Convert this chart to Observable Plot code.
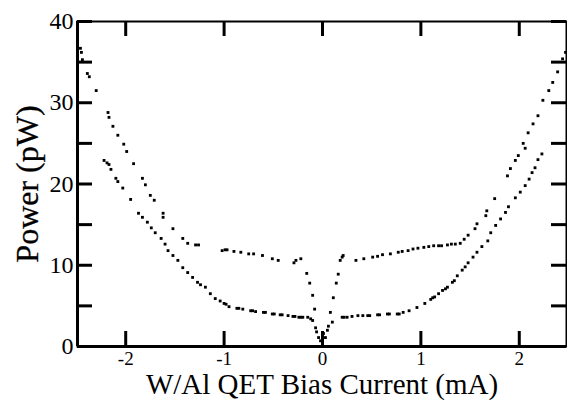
<!DOCTYPE html>
<html>
<head>
<meta charset="utf-8">
<script src="https://cdn.jsdelivr.net/npm/d3@7"></script>
<script src="https://cdn.jsdelivr.net/npm/@observablehq/plot@0.6"></script>
<style>
  html, body { margin: 0; padding: 0; background: #fff; }
  #chart svg { display: block; }
</style>
</head>
<body>
<div id="chart"></div>
<script>
// Upper branch (left), bias current in mA and power in pW
const upperLeftX = [-2.46,-2.45,-2.44,-2.39,-2.37,-2.30,-2.18,-2.17,-2.13,-2.08,-2.02,-1.99,-1.92,-1.83,-1.80,-1.75,-1.71,-1.62,-1.62,-1.52,-1.42,-1.37,-1.29,-1.26,-1.02,-0.99,-0.97,-0.90,-0.83,-0.75,-0.70,-0.61,-0.51,-0.45,-0.29,-0.27,-0.22,-0.16,-0.13,-0.10,-0.08];
const upperLeftY = [36.7,36.2,35.3,33.6,33.2,31.5,28.8,28.2,27.1,26.0,24.9,24.0,22.5,20.7,19.9,18.6,18.0,16.4,15.9,14.5,13.3,12.7,12.5,12.5,11.8,11.9,11.9,11.7,11.6,11.4,11.4,11.2,10.8,10.6,10.3,10.6,10.8,9.0,7.8,6.3,4.6];
// Lower branch (left)
const lowerLeftX = [-2.22,-2.19,-2.17,-2.15,-2.10,-2.08,-2.03,-1.95,-1.87,-1.83,-1.78,-1.74,-1.70,-1.64,-1.60,-1.57,-1.52,-1.47,-1.42,-1.37,-1.32,-1.27,-1.24,-1.19,-1.14,-1.09,-1.04,-1.00,-0.98,-0.95,-0.87,-0.85,-0.81,-0.73,-0.71,-0.68,-0.60,-0.58,-0.51,-0.49,-0.43,-0.41,-0.35,-0.30,-0.28,-0.24,-0.22,-0.20,-0.15,-0.12];
const lowerLeftY = [22.9,22.6,22.4,21.8,20.7,20.3,19.5,18.1,16.4,15.9,15.3,14.6,14.0,13.3,12.6,11.8,11.2,10.6,9.7,9.1,8.5,7.9,7.6,7.3,6.5,5.9,5.6,5.3,5.2,4.9,4.7,4.7,4.6,4.4,4.4,4.3,4.2,4.2,4.0,4.0,3.9,3.9,3.8,3.7,3.7,3.6,3.6,3.6,3.6,3.4];
// Transition dip near zero bias
const dipX = [-0.10,-0.07,-0.06,-0.04,-0.02,0.00,0.01,0.03,0.05,0.06,0.08,0.10,0.11,0.14,0.16];
const dipY = [3.2,2.3,1.8,1.1,0.7,0.4,1.6,1.1,2.0,2.5,4.2,3.0,6.0,7.8,8.9];
// Upper branch (right)
const upperRightX = [0.18,0.20,0.21,0.34,0.42,0.51,0.56,0.61,0.69,0.77,0.81,0.87,0.92,0.97,1.03,1.08,1.13,1.18,1.21,1.27,1.31,1.35,1.40,1.44,1.48,1.55,1.57,1.66,1.67,1.75,1.88,1.91,1.96,1.99,2.04,2.06,2.09,2.14,2.19,2.24,2.30,2.34,2.39,2.44,2.47];
const upperRightY = [10.6,11.0,11.2,10.6,10.8,11.0,11.1,11.3,11.4,11.6,11.7,11.8,12.0,12.1,12.2,12.3,12.4,12.4,12.4,12.5,12.6,12.6,12.7,13.2,13.7,14.5,15.1,16.1,16.7,18.2,21.0,21.9,22.9,23.5,25.0,24.4,26.3,27.4,28.4,30.3,31.5,32.5,33.8,35.4,36.2];
// Lower branch (right)
const lowerRightX = [0.20,0.22,0.25,0.30,0.36,0.41,0.46,0.48,0.56,0.58,0.66,0.68,0.76,0.78,0.82,0.88,0.96,1.04,1.10,1.12,1.14,1.18,1.22,1.25,1.27,1.32,1.34,1.37,1.42,1.45,1.48,1.53,1.57,1.62,1.68,1.71,1.76,1.81,1.86,1.89,1.96,2.01,2.06,2.10,2.13,2.16,2.19,2.23];
const lowerRightY = [3.6,3.6,3.6,3.7,3.8,3.8,3.8,3.8,3.9,3.9,4.0,4.0,4.0,4.0,4.2,4.4,4.8,5.3,5.8,6.0,6.1,6.5,6.9,7.1,7.3,7.9,8.1,8.7,9.4,9.8,10.3,11.0,11.6,12.3,13.0,14.0,14.9,15.7,16.5,17.2,18.3,19.0,19.8,20.6,21.4,22.0,23.0,23.7];

const xTicks = [-2, -1, 0, 1, 2];
const yTickLabels = [0, 10, 20, 30, 40];
const yTicksAll = [0, 5, 10, 15, 20, 25, 30, 35, 40];
const xLabel = "W/Al QET Bias Current (mA)";
const yLabel = "Power (pW)";

const xs = [...upperLeftX, ...lowerLeftX, ...dipX, ...upperRightX, ...lowerRightX];
const ys = [...upperLeftY, ...lowerLeftY, ...dipY, ...upperRightY, ...lowerRightY];
const points = xs.map((x, i) => ({x, y: ys[i]}));

const W = 567, H = 400;
const mL = 77, mR = 1, mT = 21, mB = 54;
const plotW = W - mL - mR, plotH = H - mT - mB;
const tickLen = 15;
const font = "Liberation Serif, Times New Roman, serif";

const chart = Plot.plot({
  width: W,
  height: H,
  marginLeft: mL,
  marginRight: mR,
  marginTop: mT,
  marginBottom: mB,
  style: {fontFamily: font, background: "#fff", color: "#000"},
  x: {domain: [-2.49, 2.48]},
  y: {domain: [0, 40]},
  marks: [
    Plot.frame({stroke: "#000", strokeWidth: 2}),
    Plot.ruleX([-2.49], {stroke: "#000", strokeWidth: 3}),
    Plot.ruleY([0], {stroke: "#000", strokeWidth: 3}),
    // inward ticks: left and right
    Plot.tickY(yTicksAll, {y: d => d, insetRight: plotW - tickLen, stroke: "#000", strokeWidth: 3}),
    Plot.tickY(yTicksAll, {y: d => d, insetLeft: plotW - tickLen, stroke: "#000", strokeWidth: 3}),
    // inward ticks: bottom and top
    Plot.tickX(xTicks, {x: d => d, insetTop: plotH - tickLen, stroke: "#000", strokeWidth: 3}),
    Plot.tickX(xTicks, {x: d => d, insetBottom: plotH - tickLen, stroke: "#000", strokeWidth: 3}),
    Plot.axisY({ticks: yTickLabels, tickSize: 0, tickPadding: 4, fontSize: 24, fontFamily: font, fontVariant: "normal", fill: "#000", label: null, tickFormat: d => String(d)}),
    Plot.axisX({ticks: xTicks, tickSize: 0, tickPadding: 5, fontSize: 19, fontFamily: font, fontVariant: "normal", fill: "#000", label: null, tickFormat: d => String(d)}),
    Plot.dot(points, {x: "x", y: "y", symbol: "square", r: 1.6, fill: "#000", stroke: null}),
    Plot.text([xLabel], {frameAnchor: "bottom", textAnchor: "middle", lineAnchor: "bottom", dy: 47, fontSize: 29, fontFamily: font, fill: "#000"}),
    Plot.text([yLabel], {frameAnchor: "left", textAnchor: "middle", lineAnchor: "middle", rotate: -90, dx: -50, fontSize: 32, fontFamily: font, fill: "#000", stroke: "#000", strokeWidth: 0.3})
  ]
});
document.getElementById("chart").appendChild(chart);
</script>
</body>
</html>
